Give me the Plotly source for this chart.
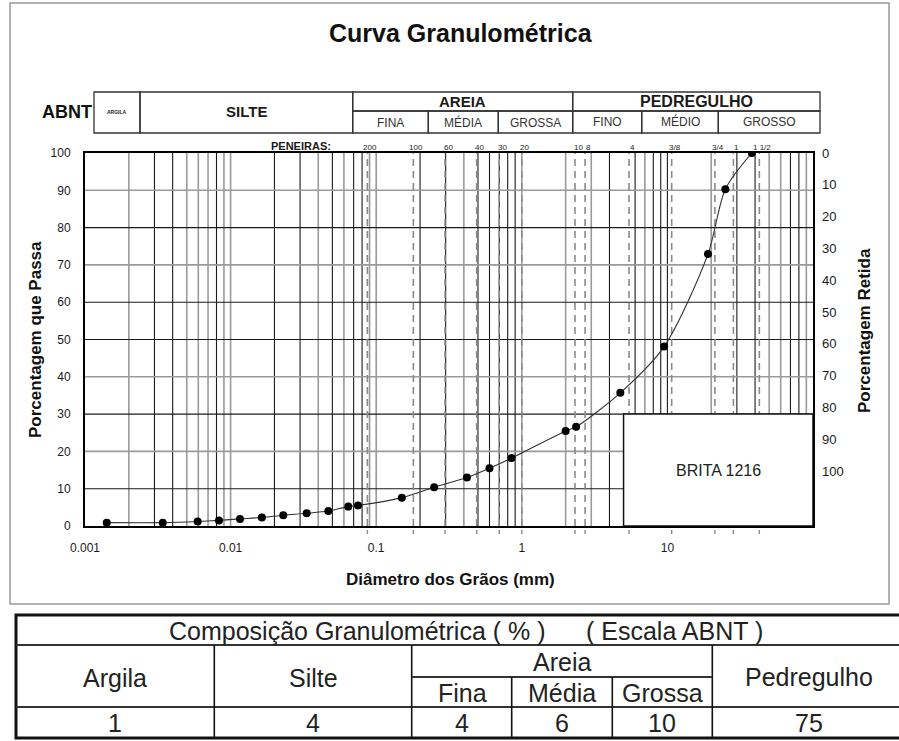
import math
import plotly.graph_objects as go

# ---------------- data ----------------
diam_mm = [0.00141, 0.00342, 0.00594, 0.00832, 0.0116, 0.0164, 0.0230, 0.0333,
           0.0469, 0.0643, 0.075, 0.15, 0.25, 0.42, 0.6, 0.85, 2.0, 2.36,
           4.75, 9.5, 19, 25, 38]
passing_pct = [0.9, 0.9, 1.2, 1.5, 1.9, 2.3, 2.9, 3.4,
               4.0, 5.2, 5.5, 7.6, 10.4, 13.0, 15.5, 18.2, 25.5, 26.6,
               35.7, 48.1, 72.9, 90.3, 100]

sieve_names = ["200", "100", "60", "40", "30", "20", "10", "8", "4",
               "3/8", "3/4", "1", "1 1/2"]
# positions of the dashed sieve lines as drawn in the original chart (mm)
sieve_line_mm = [0.087, 0.18, 0.297, 0.49, 0.70, 1.0, 2.32, 2.72, 5.45,
                 10.7, 21.2, 28.4, 42.8]

x_tick_vals = [0.001, 0.01, 0.1, 1, 10]
x_tick_text = ["0.001", "0.01", "0.1", "1", "10"]
y_ticks = list(range(0, 101, 10))
retained_ticks = list(range(0, 101, 10))

comp_labels = ["Argila", "Silte", "Fina", "Média", "Grossa", "Pedregulho"]
comp_values = [1, 4, 4, 6, 10, 75]
sample_name = "BRITA 1216"

# ---------------- layout helpers ----------------
W, H = 899, 741
L, T, R, B = 85, 153, 813, 526
FONT = "Liberation Sans, Arial, sans-serif"


def px(x):
    return (x - L) / (R - L)


def py(y):
    return (B - y) / (B - T)


shapes = []
annotations = []


def rect(x0, y0, x1, y1, color="#333", width=1.3, fill=None, layer="above"):
    shapes.append(dict(type="rect", xref="paper", yref="paper",
                       x0=px(x0), x1=px(x1), y0=py(y1), y1=py(y0),
                       line=dict(color=color, width=width),
                       fillcolor=fill if fill else "rgba(0,0,0,0)", layer=layer))


def hline(x0, x1, y, color="#333", width=1.3):
    shapes.append(dict(type="line", xref="paper", yref="paper",
                       x0=px(x0), x1=px(x1), y0=py(y), y1=py(y),
                       line=dict(color=color, width=width), layer="above"))


def vline(x, y0, y1, color="#333", width=1.3):
    shapes.append(dict(type="line", xref="paper", yref="paper",
                       x0=px(x), x1=px(x), y0=py(y0), y1=py(y1),
                       line=dict(color=color, width=width), layer="above"))


def text(x, y, s, size, bold=False, color="#1a1a1a", angle=0, xanchor="center"):
    annotations.append(dict(xref="paper", yref="paper", x=px(x), y=py(y),
                            text=s, showarrow=False, textangle=angle,
                            xanchor=xanchor, yanchor="middle",
                            font=dict(family=FONT, size=size, color=color,
                                      weight="bold" if bold else "normal")))


# ---------------- grid (log minor lines) ----------------
gray_lines = {0.002, 0.005, 0.006, 0.007, 0.009, 0.01, 0.04, 0.06, 0.09, 0.1,
              0.4, 1, 2, 3, 7, 20, 50, 60, 90}
for d in range(-3, 2):
    for k in range(1, 10):
        v = round(k * 10 ** d, 6)
        if v <= 0.001 or v == 5:
            continue
        g = v in gray_lines
        shapes.append(dict(type="line", xref="x", yref="y domain",
                           x0=v, x1=v, y0=0, y1=1,
                           line=dict(color="#9a9a9a" if g else "#1a1a1a",
                                     width=1.6 if g else 1.1),
                           layer="below"))

gray_h = {20, 40, 70, 90}
for yv in range(10, 100, 10):
    g = yv in gray_h
    shapes.append(dict(type="line", xref="x domain", yref="y",
                       x0=0, x1=1, y0=yv, y1=yv,
                       line=dict(color="#9a9a9a" if g else "#1a1a1a",
                                 width=1.6 if g else 1.1),
                       layer="below"))

# dashed sieve lines + small marks below axis + labels
for name, v in zip(sieve_names, sieve_line_mm):
    shapes.append(dict(type="line", xref="x", yref="y domain",
                       x0=v, x1=v, y0=0, y1=1,
                       line=dict(color="#8a8a8a", width=1.6, dash="7px,5px"),
                       layer="below"))
    shapes.append(dict(type="line", xref="x", yref="paper",
                       x0=v, x1=v, y0=py(530), y1=py(534),
                       line=dict(color="#8a8a8a", width=1.4), layer="above"))
    annotations.append(dict(xref="x", yref="paper", x=math.log10(v), y=py(147.5),
                            text=name, showarrow=False, xshift=3,
                            xanchor="center", yanchor="middle",
                            font=dict(family=FONT, size=8, color="#1a1a1a")))

text(301, 146, "PENEIRAS:", 11, bold=True)

# white sample box
shapes.append(dict(type="rect", xref="x", yref="y",
                   x0=5, x1=100, y0=0, y1=30,
                   line=dict(color="#111", width=1.5), fillcolor="white",
                   layer="above"))
annotations.append(dict(xref="x", yref="y", x=(math.log10(5) + 2) / 2, y=15,
                        text=sample_name, showarrow=False,
                        font=dict(family=FONT, size=16, color="#222")))

# ---------------- header (ABNT scale) ----------------
text(67, 112, "ABNT", 18, bold=True, color="#111")
rect(94, 92, 140, 133)
text(117, 112, "ARGILA", 5, bold=True)
rect(140, 92, 352.7, 133)
text(246, 112, "SILTE", 15, bold=True)
rect(352.7, 92, 572.7, 111)
text(462.7, 101.5, "AREIA", 15, bold=True)
for x0, x1, s in [(352.7, 428.3, "FINA"), (428.3, 498.3, "MÉDIA"), (498.3, 572.7, "GROSSA")]:
    rect(x0, 111, x1, 133)
    text((x0 + x1) / 2, 123, s, 12, color="#333")
rect(572.7, 92, 820, 111)
text(696.3, 101.5, "PEDREGULHO", 16, bold=True)
for x0, x1, s in [(572.7, 641.7, "FINO"), (641.7, 718.3, "MÉDIO"), (718.3, 820, "GROSSO")]:
    rect(x0, 111, x1, 133)
    text((x0 + x1) / 2, 122, s, 12, color="#333")

# title and axis titles
text(461, 33, "Curva Granulométrica", 25, bold=True, color="#111")
text(35, 340, "Porcentagem que Passa", 17, bold=True, angle=-90, color="#111")
text(864, 331, "Porcentagem Retida", 17, bold=True, angle=-90, color="#111")
text(450, 579, "Diâmetro dos Grãos (mm)", 17, bold=True, color="#111")

# outer frame
rect(10, 3, 889, 604, color="#9a9a9a", width=1.5, layer="below")

# ---------------- bottom composition table ----------------
rect(16, 615, 906, 738, color="#111", width=3)
hline(16, 906, 645, color="#333", width=2)
hline(16, 906, 707, color="#333", width=2)
for xv in [214.3, 411.7, 712.3]:
    vline(xv, 645, 738, color="#111", width=1.6)
hline(411.7, 712.3, 677, color="#333", width=2)
for xv in [511.7, 612.3]:
    vline(xv, 677, 738, color="#111", width=1.6)

TS = 25
text(357, 631, "Composição Granulométrica ( % )", TS, color="#222")
text(674, 631, "( Escala ABNT )", TS, color="#222")
text(562, 662, "Areia", TS, color="#222")
col_centers = [115, 313, 462, 562, 662, 809]
col_label_y = [678, 678, 693, 693, 693, 677]
for c, ly, lab, val in zip(col_centers, col_label_y, comp_labels, comp_values):
    text(c, ly, lab, TS, color="#222")
    text(c, 723, str(val), TS, color="#222")

# ---------------- figure ----------------
fig = go.Figure()
fig.add_trace(go.Scatter(
    x=diam_mm, y=passing_pct, mode="lines+markers",
    line=dict(color="#333", width=1.1, shape="spline", smoothing=0.8),
    marker=dict(color="black", size=8),
    showlegend=False, hoverinfo="x+y"))
fig.add_trace(go.Scatter(x=[], y=[], yaxis="y2", showlegend=False))

fig.update_layout(
    width=W, height=H, autosize=False,
    margin=dict(l=L, r=W - R, t=T, b=H - B, pad=0),
    paper_bgcolor="white", plot_bgcolor="white",
    font=dict(family=FONT, color="#1a1a1a"),
    xaxis=dict(type="log", range=[-3, 2], tickvals=x_tick_vals, ticktext=x_tick_text,
               showgrid=False, zeroline=False, showline=True, mirror=True,
               linecolor="black", linewidth=2, ticks="",
               tickfont=dict(size=12, color="#1a1a1a"), ticklabelstandoff=10),
    yaxis=dict(range=[0, 100], tickvals=y_ticks, showgrid=False, zeroline=False,
               showline=True, mirror=True, linecolor="black", linewidth=2, ticks="",
               tickfont=dict(size=12, color="#1a1a1a"), ticklabelstandoff=10),
    yaxis2=dict(overlaying="y", side="right", range=[117.3, 0], tickvals=retained_ticks,
                showgrid=False, zeroline=False, showline=False, ticks="",
                tickfont=dict(size=13, color="#1a1a1a"), ticklabelstandoff=8),
    shapes=shapes, annotations=annotations,
)

fig.write_html("out.html")
